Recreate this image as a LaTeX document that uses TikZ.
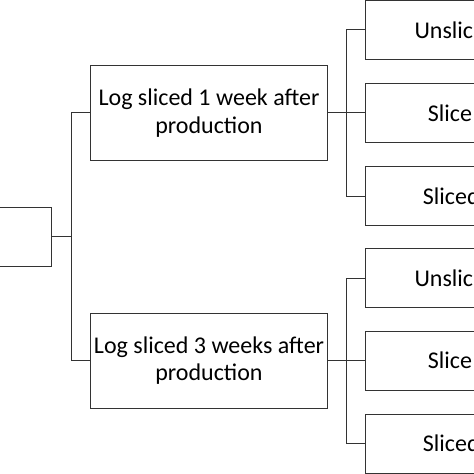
\documentclass[tikz,border=0pt]{standalone}
\usepackage{fontspec}
\setmainfont{Carlito}
\usetikzlibrary{positioning,calc}
\tikzstyle{link} = [line width=1pt,draw=black!80]

\begin{document}
\begin{tikzpicture}[x=1pt,y=-1pt,
    boxnode/.style={rectangle,draw=black!80,line width=1pt,inner sep=0pt,align=center,font=\fontsize{24}{27.5}\selectfont},
    leafnode/.style={boxnode,minimum width=237pt,minimum height=58.7pt},
    leaftext/.style={font=\fontsize{24}{27.5}\selectfont,anchor=west,inner sep=0pt},]
        \useasboundingbox (0,0) rectangle (474,474);
        \clip (0,0) rectangle (474,474);
        % \node [options] (name) at (x,y) {label};
        \node[boxnode,minimum width=120pt,minimum height=59pt] (root) at (-8.3,236.8) {};
        \node[boxnode,minimum width=236.6pt,minimum height=94.3pt] (m1) at (209,112.9) {Log sliced 1 week after\\production};
        \node[boxnode,minimum width=236.6pt,minimum height=94.7pt] (m2) at (209,360.7) {Log sliced 3 weeks after\\production};

        % leaves of 1 week
        \node[leafnode] (r1) at (483.8,29.8) {};
        \node[leafnode] (r2) at (483.8,112.9) {};
        \node[leafnode] (r3) at (483.8,196) {};
        % leaves of 3 weeks
        \node[leafnode] (r4) at (483.8,278.2) {};
        \node[leafnode] (r5) at (483.8,360.7) {};
        \node[leafnode] (r6) at (483.8,443.7) {};

        % texts of the leaves (cut by the edge)
        \node[leaftext] (t1) at (414.3,29.8) {Unslic};
        \node[leaftext] (t2) at (427.7,112.9) {Slice};
        \node[leaftext] (t3) at (422.7,196) {Sliced};
        \node[leaftext] (t4) at (414.3,278.2) {Unslic};
        \node[leaftext] (t5) at (427.7,360.7) {Slice};
        \node[leaftext] (t6) at (422.7,443.7) {Sliced};

        % junctions
        \coordinate (j0) at (71,236.8);
        \coordinate (j1) at (346.7,112.9);
        \coordinate (j2) at (346.7,360.7);

        % root -> m1, m2
        \draw[link] (root.east) -- (j0);
        \draw[link] (j0) |- (m1.west);
        \draw[link] (j0) |- (m2.west);

        % m1 -> r1, r2, r3
        \draw[link] (m1.east) -- (j1);
        \draw[link] (j1) |- (r1.west);
        \draw[link] (j1) |- (r2.west);
        \draw[link] (j1) |- (r3.west);

        % m2 -> r4, r5, r6
        \draw[link] (m2.east) -- (j2);
        \draw[link] (j2) |- (r4.west);
        \draw[link] (j2) |- (r5.west);
        \draw[link] (j2) |- (r6.west);
\end{tikzpicture}
\end{document}
